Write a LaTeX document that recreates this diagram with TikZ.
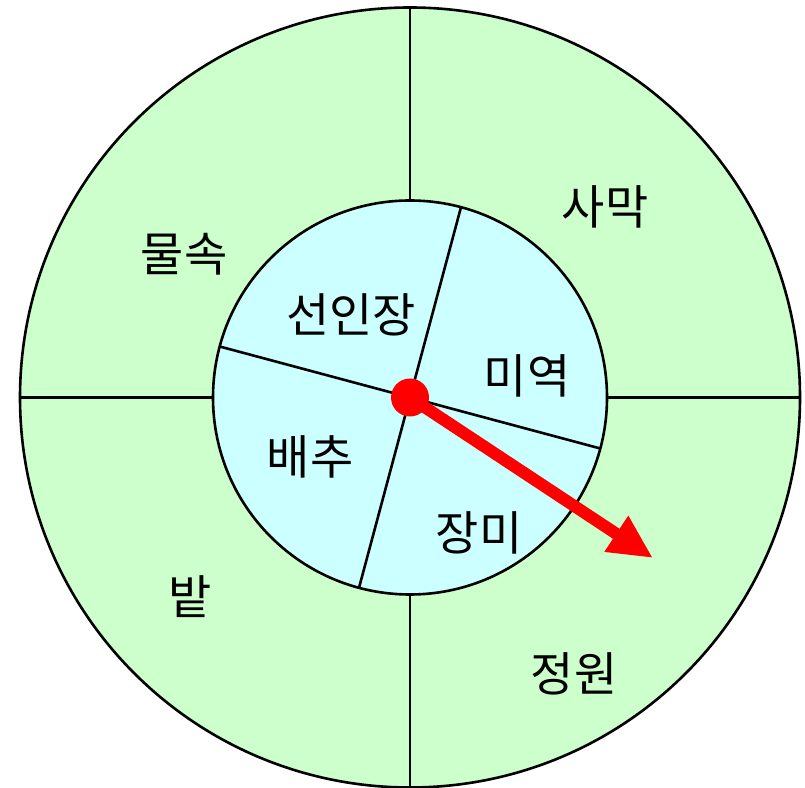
\documentclass[tikz,border=0pt]{standalone}
\usepackage{fontspec}
\newfontfamily\krfont{Noto Sans CJK KR}
\usetikzlibrary{arrows.meta}
\definecolor{fieldgreen}{RGB}{204,255,204}
\definecolor{hubblue}{RGB}{204,255,255}
\begin{document}
\begin{tikzpicture}[x=1pt,y=1pt, line width=2.6pt,
  word/.style={font=\krfont\fontsize{47}{50}\selectfont, inner sep=0pt}]
\useasboundingbox (0,0) rectangle (805,787);
\coordinate (O) at (410,389.5);
% outer ring: four places
\draw[fill=fieldgreen] (O) circle (390);
\foreach \a in {0,90,180,270}
  \draw[shift={(O)}] (\a:197) -- (\a:390);
% inner disc: four plants
\draw[fill=hubblue] (O) circle (197);
\draw[shift={(O)}] (75:197) -- (255:197);
\draw[shift={(O)}] (-15:197) -- (165:197);
% labels
\node[word] (water) at (184,533) {물속};
\node[word] (desert) at (605,580) {사막};
\node[word] (field) at (190,190) {밭};
\node[word] (garden) at (574,113) {정원};
\node[word] (cactus) at (351,472) {선인장};
\node[word] (seaweed) at (527,411) {미역};
\node[word] (cabbage) at (310,330) {배추};
\node[word] (rose) at (479,254) {장미};
% pointer
\coordinate (tip) at (653,229);
\draw[red, line width=12pt, -{Triangle[length=44pt,width=40pt]}] (O) -- (tip);
\fill[red] (O) circle (19);
\end{tikzpicture}
\end{document}
